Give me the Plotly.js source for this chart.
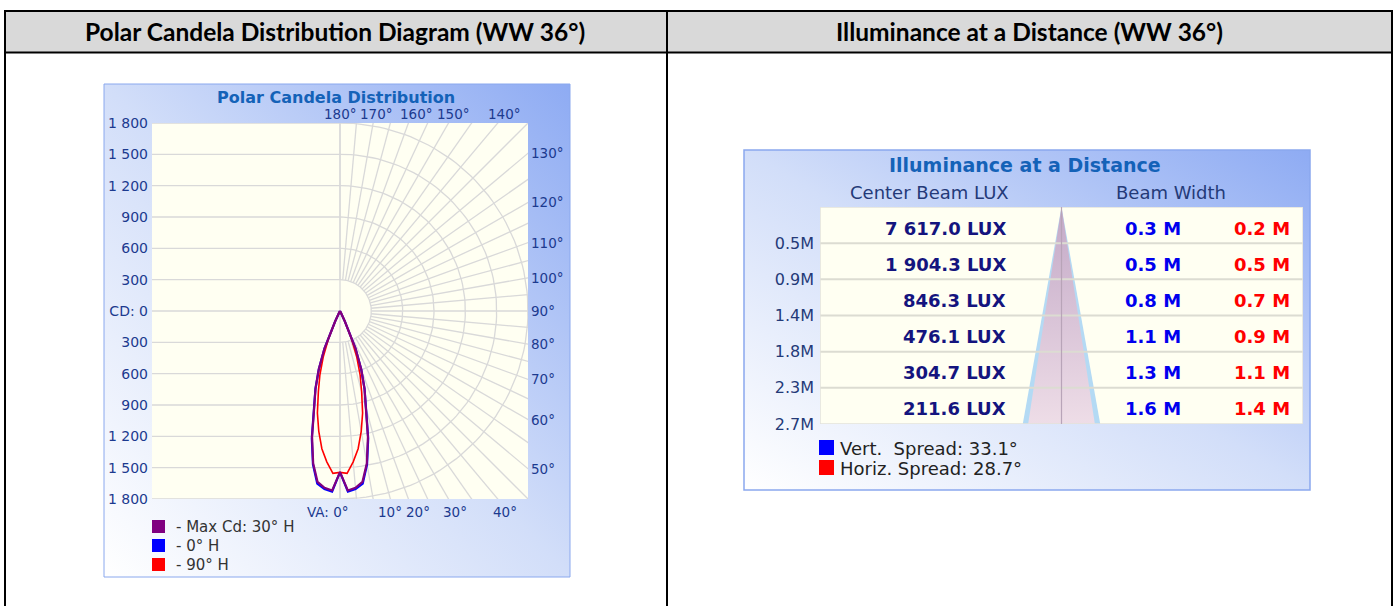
<!DOCTYPE html>
<html>
<head>
<meta charset="utf-8">
<script src="https://cdn.plot.ly/plotly-3.0.1.min.js"></script>
<style>
html,body{margin:0;padding:0;background:#ffffff;}
#chart{width:1395px;height:606px;}
</style>
</head>
<body>
<div id="chart"></div>
<script>
// ---------------- DATA ----------------
const headerLeft = "Polar Candela Distribution Diagram (WW 36°)";
const headerRight = "Illuminance at a Distance (WW 36°)";

// Polar candela distribution (vertical angle in degrees, candela)
const vaAngles   = [0, 2.5, 5, 7.5, 10, 12.5, 15, 17.5, 20, 22.5, 25, 27.5, 30];
const cdMax30H   = [1543, 1720, 1700, 1650, 1480, 1235, 955, 780, 595, 390, 110, 20, 0];
const cd0H       = [1543, 1732, 1712, 1668, 1492, 1248, 962, 782, 592, 386, 106, 18, 0];
const cd90H      = [1545, 1556, 1450, 1330, 1170, 1000, 800, 640, 470, 290, 110, 20, 0];
const seriesNames  = ["- Max Cd: 30° H", "- 0° H", "- 90° H"];
const seriesColors = ["#800080", "#0000ff", "#ff0000"];

const cdTickVals   = [1800, 1500, 1200, 900, 600, 300, 0, -300, -600, -900, -1200, -1500, -1800];
const cdTickText   = ["1 800", "1 500", "1 200", "900", "600", "300", "CD: 0", "300", "600", "900", "1 200", "1 500", "1 800"];
const sideAngles   = [130, 120, 110, 100, 90, 80, 70, 60, 50];
const topAngleText = ["180°", "170°", "160°", "150°", "140°"];
const bottomAngleText = ["VA: 0°", "10°", "20°", "30°", "40°"];

// Illuminance at a distance
const distances    = [0.45, 0.9, 1.35, 1.8, 2.25, 2.7];
const distLabels   = ["0.5M", "0.9M", "1.4M", "1.8M", "2.3M", "2.7M"];
const luxLabels    = ["7 617.0 LUX", "1 904.3 LUX", "846.3 LUX", "476.1 LUX", "304.7 LUX", "211.6 LUX"];
const vertWidths   = ["0.3 M", "0.5 M", "0.8 M", "1.1 M", "1.3 M", "1.6 M"];
const horizWidths  = ["0.2 M", "0.5 M", "0.7 M", "0.9 M", "1.1 M", "1.4 M"];
const vertSpread   = 33.1;
const horizSpread  = 28.7;

// ---------------- HELPERS ----------------
const W = 1395, H = 606;
const px = x => x / W;
const py = y => 1 - y / H;
const rad = d => d * Math.PI / 180;

const gradSvg = '<svg xmlns="http://www.w3.org/2000/svg" width="100" height="100" viewBox="0 0 100 100" preserveAspectRatio="none">' +
  '<defs><linearGradient id="g" x1="0" y1="1" x2="1" y2="0">' +
  '<stop offset="0" stop-color="#ffffff"/><stop offset="0.5" stop-color="#d2def9"/><stop offset="1" stop-color="#8eabf3"/></linearGradient></defs>' +
  '<rect width="100" height="100" fill="url(#g)"/></svg>';
const gradSrc = 'data:image/svg+xml;charset=utf-8,' + encodeURIComponent(gradSvg);

function mirror(arr, neg) {
  const left = arr.slice(1).reverse().map(v => neg ? -v : v);
  return left.concat(arr);
}

// Polar area (pixels)
const P = {x0: 152, x1: 528, y0: 123, y1: 499};
// Table area (pixels)
const T = {x0: 820, x1: 1303, y0: 207, y1: 424};

const chartFont = "DejaVu Sans";
const navy = "#1c3a8f";
const cream = "#fffff2";

const traces = [];

// Polar grid (right half) on cartesian axes x2/y2
const arcX = [], arcY = [];
for (let r = 300; r <= 1800; r += 300) {
  for (let a = 0; a <= 180; a += 2) {
    arcX.push(r * Math.sin(rad(a)));
    arcY.push(-r * Math.cos(rad(a)));
  }
  arcX.push(null); arcY.push(null);
}
traces.push({type: 'scatter', mode: 'lines', x: arcX, y: arcY, xaxis: 'x2', yaxis: 'y2',
  line: {color: '#d9d9d9', width: 1.3}, hoverinfo: 'skip', showlegend: false});
const radX = [], radY = [];
for (let a = 0; a <= 180; a += 5) {
  radX.push(300 * Math.sin(rad(a)), 2700 * Math.sin(rad(a)), null);
  radY.push(-300 * Math.cos(rad(a)), -2700 * Math.cos(rad(a)), null);
}
traces.push({type: 'scatter', mode: 'lines', x: radX, y: radY, xaxis: 'x2', yaxis: 'y2',
  line: {color: '#d9d9d9', width: 1.3}, hoverinfo: 'skip', showlegend: false});

// Candela curves (polar subplot)
const thetaFull = mirror(vaAngles, true);
const curveData = [cdMax30H, cd0H, cd90H];
const drawOrder = [1, 2, 0];
drawOrder.forEach(i => {
  traces.push({type: 'scatterpolar', mode: 'lines', theta: thetaFull, r: mirror(curveData[i], false),
    subplot: 'polar', name: seriesNames[i], line: {color: seriesColors[i], width: i === 2 ? 1.6 : 2.2},
    showlegend: false, hoverinfo: 'skip'});
});

// Beam cone (table subplot x3/y3)
const maxD = distances[distances.length - 1];
const hwV = maxD * Math.tan(rad(vertSpread / 2));
const hwH = maxD * Math.tan(rad(horizSpread / 2));
traces.push({type: 'scatter', mode: 'lines', x: [0, -hwV, hwV, 0], y: [0, maxD, maxD, 0],
  xaxis: 'x3', yaxis: 'y3', fill: 'toself', fillcolor: '#b4daf4', line: {width: 0},
  hoverinfo: 'skip', showlegend: false});
traces.push({type: 'scatter', mode: 'lines', x: [0, -hwH, hwH, 0], y: [0, maxD, maxD, 0],
  xaxis: 'x3', yaxis: 'y3', fill: 'toself', fillcolor: '#dcc6d6',
  fillgradient: {type: 'vertical', start: 0, stop: maxD, colorscale: [[0, '#c3a9c7'], [1, '#eedde7']]},
  line: {width: 0}, hoverinfo: 'skip', showlegend: false});

// ---------------- SHAPES ----------------
const shapes = [];
// header background & table borders
shapes.push({type: 'rect', xref: 'paper', yref: 'paper', x0: px(5), x1: px(1392), y0: py(52), y1: py(11),
  fillcolor: '#d9d9d9', line: {width: 0}, layer: 'below'});
// cream plot areas (above the gradient images)
shapes.push({type: 'rect', xref: 'paper', yref: 'paper', x0: px(P.x0), x1: px(P.x1), y0: py(P.y1), y1: py(P.y0),
  fillcolor: cream, line: {width: 0}, layer: 'below'});
shapes.push({type: 'rect', xref: 'paper', yref: 'paper', x0: px(T.x0), x1: px(T.x1), y0: py(T.y1), y1: py(T.y0),
  fillcolor: cream, line: {width: 0}, layer: 'below'});
const blk = {color: '#000000', width: 2};
shapes.push({type: 'line', xref: 'paper', yref: 'paper', x0: px(4), x1: px(1393), y0: py(11), y1: py(11), line: blk});
shapes.push({type: 'line', xref: 'paper', yref: 'paper', x0: px(4), x1: px(1393), y0: py(52.5), y1: py(52.5), line: blk});
shapes.push({type: 'line', xref: 'paper', yref: 'paper', x0: px(5), x1: px(5), y0: py(10), y1: py(606), line: blk});
shapes.push({type: 'line', xref: 'paper', yref: 'paper', x0: px(667), x1: px(667), y0: py(10), y1: py(606), line: blk});
shapes.push({type: 'line', xref: 'paper', yref: 'paper', x0: px(1392), x1: px(1392), y0: py(10), y1: py(606), line: blk});
// chart frames
shapes.push({type: 'rect', xref: 'paper', yref: 'paper', x0: px(104), x1: px(570), y0: py(577), y1: py(84),
  line: {color: '#8aa8ee', width: 1}, fillcolor: 'rgba(0,0,0,0)'});
shapes.push({type: 'rect', xref: 'paper', yref: 'paper', x0: px(744), x1: px(1310), y0: py(490), y1: py(150),
  line: {color: '#8aa8ee', width: 1.5}, fillcolor: 'rgba(0,0,0,0)'});
// left-half horizontal candela lines
cdTickVals.forEach(v => {
  shapes.push({type: 'line', xref: 'x2', yref: 'y2', x0: -1800, x1: 0, y0: v, y1: v,
    line: {color: '#d9d9d9', width: 1.3}, layer: 'below'});
});
shapes.push({type: 'line', xref: 'x2', yref: 'y2', x0: 0, x1: 0, y0: -1800, y1: 1800,
  line: {color: '#d9d9d9', width: 1.3}, layer: 'below'});
// legend squares (polar)
seriesColors.forEach((c, i) => {
  const yy = 520 + i * 19;
  shapes.push({type: 'rect', xref: 'paper', yref: 'paper', x0: px(152), x1: px(165), y0: py(yy + 13), y1: py(yy),
    fillcolor: c, line: {width: 0}});
});
// table separators / border / center line
distances.slice(0, -1).forEach(d => {
  shapes.push({type: 'line', xref: 'x3', yref: 'y3', x0: -5, x1: 5, y0: d, y1: d,
    line: {color: '#dcdcd2', width: 2}, layer: 'above'});
});
shapes.push({type: 'rect', xref: 'x3', yref: 'y3', x0: -5, x1: 5, y0: 0, y1: maxD,
  line: {color: '#e2e2dc', width: 1.5}, fillcolor: 'rgba(0,0,0,0)'});
shapes.push({type: 'line', xref: 'x3', yref: 'y3', x0: 0, x1: 0, y0: 0, y1: maxD,
  line: {color: '#b8a4b8', width: 1.2}, layer: 'above'});
// right legend squares
shapes.push({type: 'rect', xref: 'paper', yref: 'paper', x0: px(819), x1: px(834), y0: py(455), y1: py(440),
  fillcolor: '#0000ff', line: {width: 0}});
shapes.push({type: 'rect', xref: 'paper', yref: 'paper', x0: px(819), x1: px(834), y0: py(475), y1: py(460),
  fillcolor: '#ff0000', line: {width: 0}});

// ---------------- ANNOTATIONS ----------------
const ann = [];
function A(o) {
  ann.push(Object.assign({xref: 'paper', yref: 'paper', xanchor: 'center', yanchor: 'middle', showarrow: false}, o));
}
const hdrFont = {family: 'Lato, "Open Sans", sans-serif', size: 24.5, color: '#000000'};
A({x: px(335), y: py(31.5), text: '<b>' + headerLeft + '</b>', font: hdrFont});
A({x: px(1029), y: py(31.5), text: '<b>' + headerRight + '</b>', font: hdrFont});

// polar chart texts
const angFont = {family: chartFont, size: 13.5, color: navy};
A({x: px(336), y: py(97), text: '<b>Polar Candela Distribution</b>', font: {family: chartFont, size: 16, color: '#1462b8'}});
const topCenters = [340, 377, 416, 454, 505];
topAngleText.forEach((t, i) => {
  A({x: px(topCenters[i]), y: py(114), text: t, font: angFont});
});
sideAngles.forEach(a => {
  A({xref: 'x2', yref: 'y2', x: 1800, y: -1800 / Math.tan(rad(a)), xanchor: 'left', xshift: 1,
    text: a + '°', font: angFont});
});
const botCenters = [328, 390, 418, 454.5, 505];
bottomAngleText.forEach((t, i) => {
  A({x: px(botCenters[i]), y: py(512), text: t, font: angFont});
});
seriesNames.forEach((t, i) => {
  A({x: px(174), y: py(527 + i * 19), xanchor: 'left', text: t, font: {family: chartFont, size: 15, color: '#333333'}});
});

// illuminance chart texts
A({x: px(1025), y: py(165), text: '<b>Illuminance at a Distance</b>', font: {family: chartFont, size: 19, color: '#1462b8'}});
A({x: px(929), y: py(192), text: 'Center Beam LUX', font: {family: chartFont, size: 18, color: '#243a78'}});
A({x: px(1171), y: py(192), text: 'Beam Width', font: {family: chartFont, size: 18, color: '#243a78'}});
const rowStep = distances[0];
distances.forEach((d, i) => {
  const yc = d - rowStep / 2;
  A({xref: 'x3', yref: 'y3', x: -1.11, y: yc, xanchor: 'right', yshift: -3, text: '<b>' + luxLabels[i] + '</b>',
    font: {family: chartFont, size: 18, color: '#14147e'}});
  A({xref: 'x3', yref: 'y3', x: 2.52, y: yc, xanchor: 'right', yshift: -3, text: '<b>' + vertWidths[i] + '</b>',
    font: {family: chartFont, size: 18, color: '#0000ee'}});
  A({xref: 'x3', yref: 'y3', x: 4.77, y: yc, xanchor: 'right', yshift: -3, text: '<b>' + horizWidths[i] + '</b>',
    font: {family: chartFont, size: 18, color: '#ff0000'}});
});
A({x: px(838), y: py(448), xanchor: 'left', text: 'Vert.\u00a0 Spread: ' + vertSpread.toFixed(1) + '°',
  font: {family: chartFont, size: 18, color: '#222222'}});
A({x: px(838), y: py(468), xanchor: 'left', text: 'Horiz. Spread: ' + horizSpread.toFixed(1) + '°',
  font: {family: chartFont, size: 18, color: '#222222'}});

// ---------------- LAYOUT ----------------
const layout = {
  width: W, height: H,
  margin: {l: 0, r: 0, t: 0, b: 0, pad: 0},
  paper_bgcolor: '#ffffff',
  plot_bgcolor: cream,
  showlegend: false,
  font: {family: chartFont},
  images: [
    {source: gradSrc, xref: 'paper', yref: 'paper', x: px(104), y: py(84), sizex: (570 - 104) / W, sizey: (577 - 84) / H,
      xanchor: 'left', yanchor: 'top', sizing: 'stretch', layer: 'below'},
    {source: gradSrc, xref: 'paper', yref: 'paper', x: px(744), y: py(150), sizex: (1310 - 744) / W, sizey: (490 - 150) / H,
      xanchor: 'left', yanchor: 'top', sizing: 'stretch', layer: 'below'}
  ],
  xaxis2: {domain: [px(P.x0), px(P.x1)], range: [-1800, 1800], anchor: 'y2', visible: false, fixedrange: true},
  yaxis2: {domain: [py(P.y1), py(P.y0)], range: [-1800, 1800], anchor: 'x2', showgrid: false, zeroline: false,
    tickvals: cdTickVals, ticktext: cdTickText, ticks: '', ticklabelstandoff: 3,
    tickfont: {family: chartFont, size: 14, color: navy}, showline: false, fixedrange: true},
  polar: {
    domain: {x: [px(P.x0), px(P.x1)], y: [py(P.y1), py(P.y0)]},
    bgcolor: 'rgba(0,0,0,0)',
    radialaxis: {range: [0, 1800], visible: false, showgrid: false},
    angularaxis: {rotation: -90, direction: 'counterclockwise', visible: false, showgrid: false}
  },
  xaxis3: {domain: [px(T.x0), px(T.x1)], range: [-5, 5], anchor: 'y3', visible: false, fixedrange: true},
  yaxis3: {domain: [py(T.y1), py(T.y0)], range: [maxD, 0], anchor: 'x3', showgrid: false, zeroline: false,
    tickvals: distances, ticktext: distLabels, ticks: '', ticklabelstandoff: 5,
    tickfont: {family: chartFont, size: 16, color: '#243a78'}, fixedrange: true},
  shapes: shapes,
  annotations: ann
};

Plotly.newPlot('chart', traces, layout, {staticPlot: true, displayModeBar: false});
</script>
</body>
</html>
